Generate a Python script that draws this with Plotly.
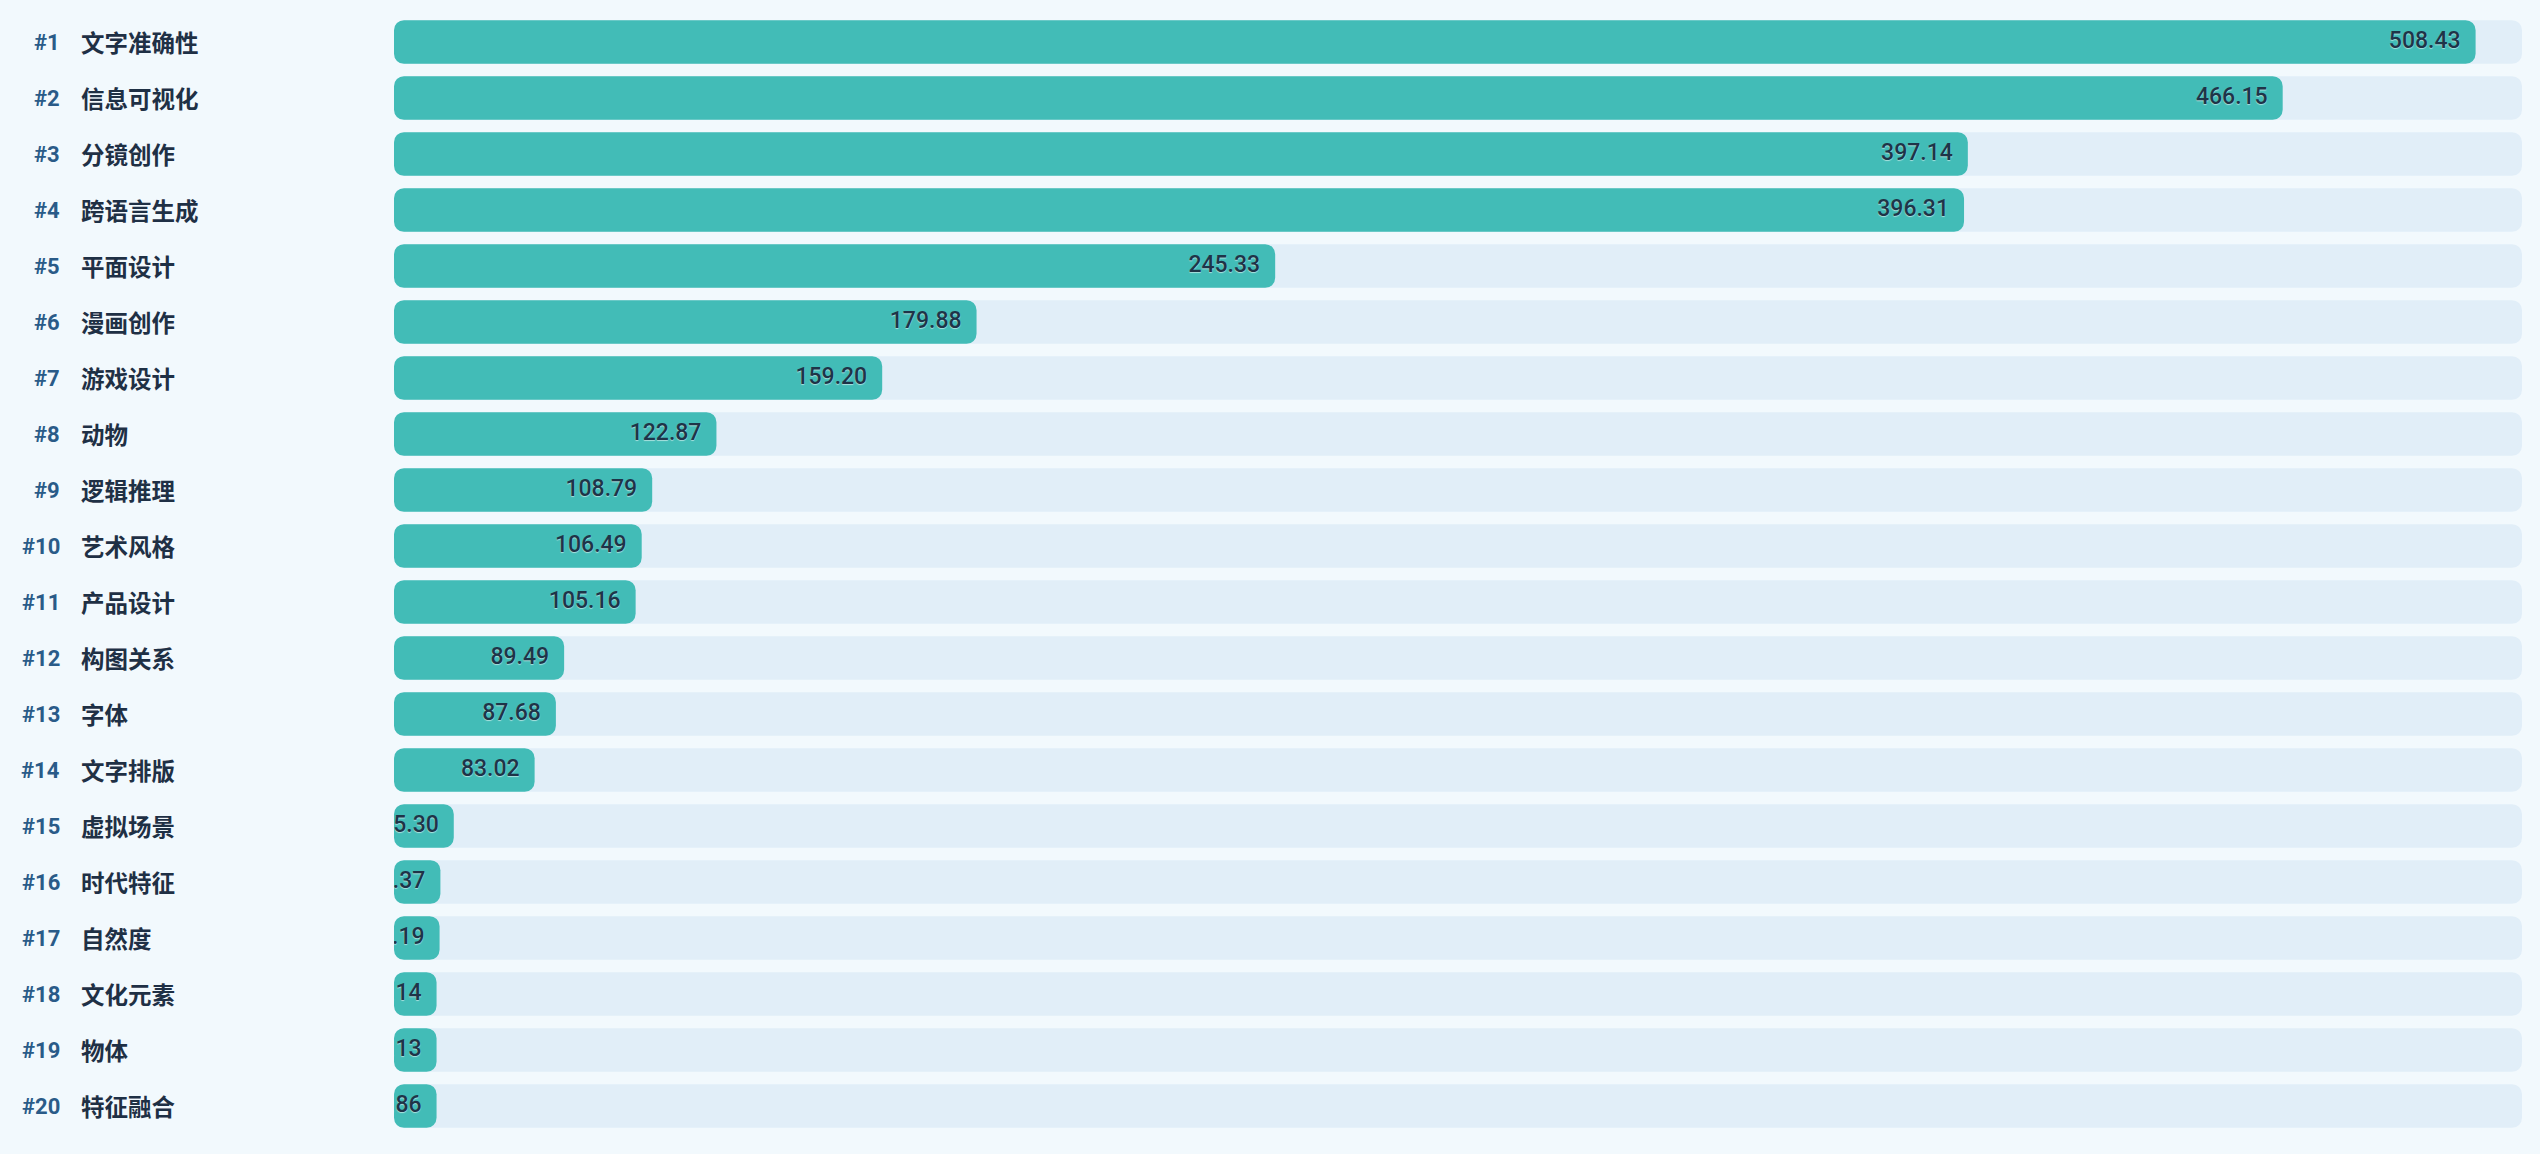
import plotly.graph_objects as go

# ranked items, top to bottom
names = ['文字准确性', '信息可视化', '分镜创作', '跨语言生成', '平面设计',
         '漫画创作', '游戏设计', '动物', '逻辑推理', '艺术风格',
         '产品设计', '构图关系', '字体', '文字排版', '虚拟场景',
         '时代特征', '自然度', '文化元素', '物体', '特征融合']
values = [508.43, 466.15, 397.14, 396.31, 245.33,
          179.88, 159.20, 122.87, 108.79, 106.49,
          105.16, 89.49, 87.68, 83.02, 65.30,
          62.37, 62.19, 61.14, 61.13, 60.86]
ranks = ['#%d' % (i + 1) for i in range(len(names))]

BAR = '#42bcb7'
TRACK = '#e1eef8'
BG = '#f2f9fd'
TXT = '#1e3448'

W, H = 2540, 1154
ML, MR, MT, MB = 394, 18, 14, 20
pw = W - ML - MR

lo, hi = 52.2, 518.6          # axis window (track spans all of it)
min_w = 0.02 * (hi - lo)      # bars never thinner than 2% of the track
pad = 15 * (hi - lo) / pw     # label inset from bar end (15px)

widths = [max(v - lo, min_w) for v in values]

fig = go.Figure()
common = dict(y=names, orientation='h', width=0.78, hoverinfo='skip',
              showlegend=False, marker_line_width=0, marker_cornerradius=10,
              base=lo)

# background track
fig.add_trace(go.Bar(x=[hi - lo] * len(names), marker_color=TRACK, **common))
# value bars
fig.add_trace(go.Bar(x=widths, marker_color=BAR, **common))

# value labels, right aligned just inside the bar end, clipped at the axis
fig.add_trace(go.Scatter(
    x=[lo + w - pad for w in widths], y=names,
    mode='text', text=['%.2f' % v for v in values],
    textposition='middle left', cliponaxis=True,
    marker=dict(size=0), hoverinfo='skip', showlegend=False,
    textfont=dict(family='Roboto', size=23, color=TXT, weight=500,
                  shadow='0px 1px 1px rgba(255,255,255,0.55)'),
))

for r, n in zip(ranks, names):
    fig.add_annotation(x=(61.5 - ML) / pw, xref='paper', y=n, yref='y',
                       text=r, showarrow=False, xanchor='right',
                       font=dict(family='Roboto', size=22, color='#2a5b88',
                                 weight='bold'))
    fig.add_annotation(x=(79 - ML) / pw, xref='paper', y=n, yref='y',
                       text=n, showarrow=False, xanchor='left',
                       font=dict(family='Noto Sans CJK SC', size=23.5,
                                 color='#1f3045', weight='bold'))

fig.update_layout(
    width=W, height=H,
    barmode='overlay',
    paper_bgcolor=BG, plot_bgcolor=BG,
    margin=dict(l=ML, r=MR, t=MT, b=MB),
)
fig.update_xaxes(range=[lo, hi], showgrid=False, zeroline=False,
                 showticklabels=False, ticks='')
fig.update_yaxes(range=[len(names) - 0.5, -0.5], showgrid=False,
                 zeroline=False, showticklabels=False, ticks='')

fig.write_html('out.html', config={'displayModeBar': False},
               post_script="document.body.style.margin='0';"
                           "document.body.style.overflow='hidden';")
